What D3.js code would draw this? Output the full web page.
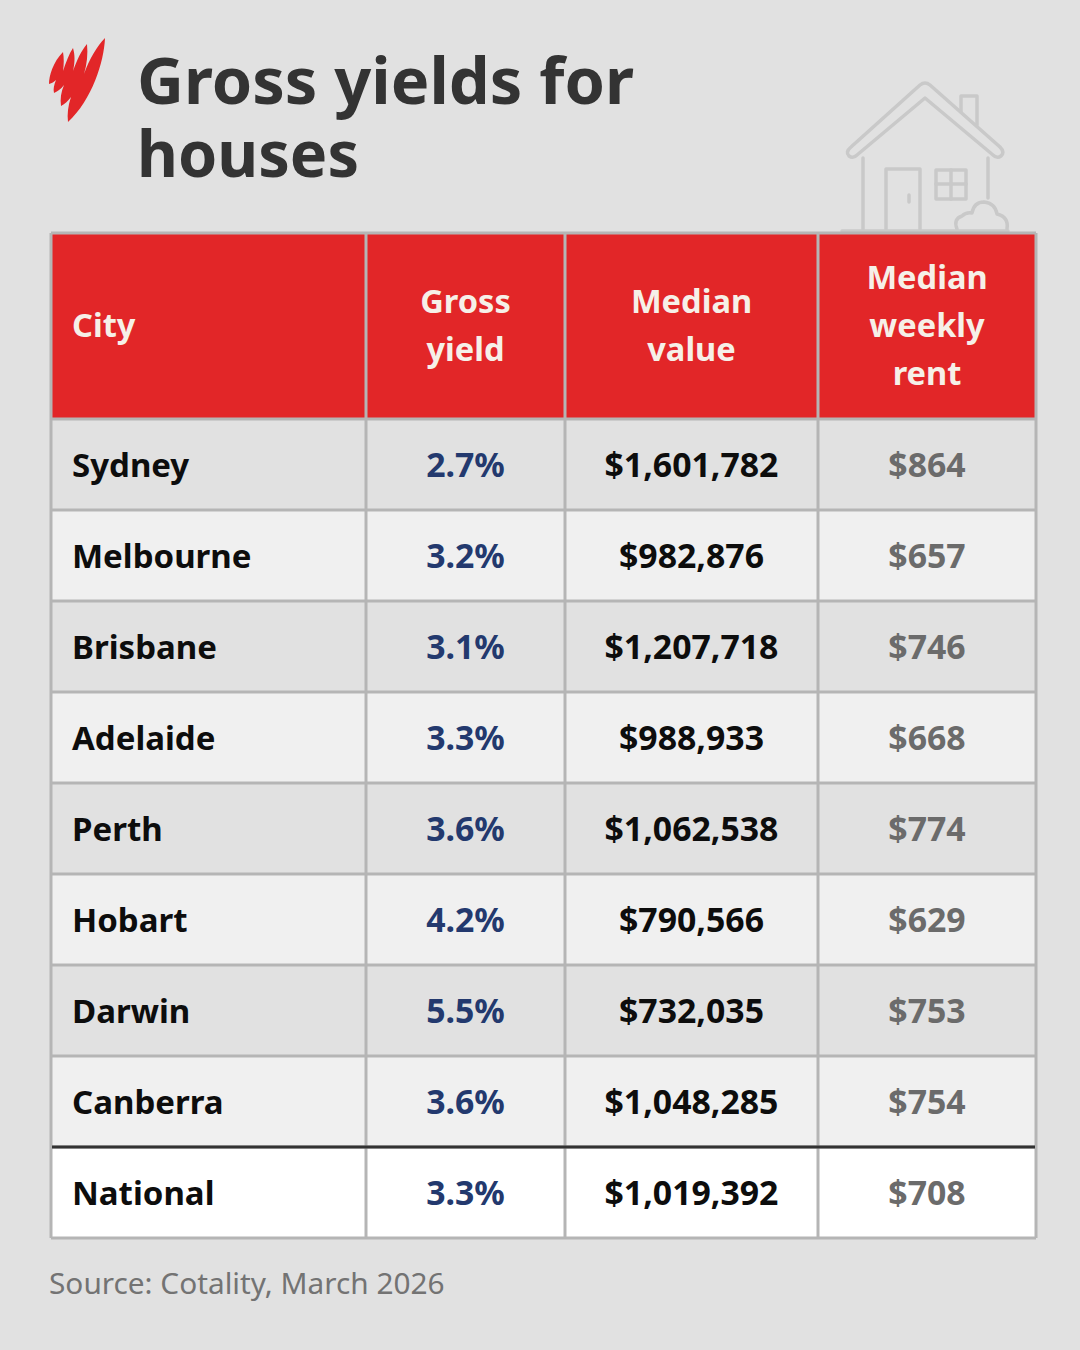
<!DOCTYPE html>
<html>
<head>
<meta charset="utf-8">
<script src="https://cdn.jsdelivr.net/npm/d3@7"></script>
<style>
html, body { margin: 0; padding: 0; background: #e1e1e1; }
svg { display: block; }
text { font-family: "Noto Sans", sans-serif; }
</style>
</head>
<body>
<svg></svg>
<script>
//Table content
var title = ["Gross yields for", "houses"];
var headers = [["City"], ["Gross", "yield"], ["Median", "value"], ["Median", "weekly", "rent"]];
var cities = ["Sydney", "Melbourne", "Brisbane", "Adelaide", "Perth", "Hobart", "Darwin", "Canberra", "National"];
var grossYield = ["2.7%", "3.2%", "3.1%", "3.3%", "3.6%", "4.2%", "5.5%", "3.6%", "3.3%"];
var medianValue = ["$1,601,782", "$982,876", "$1,207,718", "$988,933", "$1,062,538", "$790,566", "$732,035", "$1,048,285", "$1,019,392"];
var weeklyRent = ["$864", "$657", "$746", "$668", "$774", "$629", "$753", "$754", "$708"];
var source = "Source: Cotality, March 2026";

//Canvas settings
var width = 1080;
var height = 1350;
var columnEdges = [51, 366, 565, 818, 1036];
var headerTop = 233;
var rowsTop = 419;
var rowHeight = 91;

var red = "#e22628";
var grid = "#b5b5b5";

var svg = d3.select("svg")
	.attr("width", width)
	.attr("height", height)
	.attr("viewBox", "0 0 " + width + " " + height);

svg.append("rect")
	.attr("width", width)
	.attr("height", height)
	.attr("fill", "#e1e1e1");

//Logo, one serrated outline
svg.append("path")
	.attr("fill", red)
	.attr("d", "M105,38 C104,62 92,100 68,122 C67,114 68,106 71,97 C68,101 65,104 61,106 C60,99 61,92 64,85 C61,89 58,91 54,93 C53,89 54,85 56,80 C54,82 52,83 49,84 C49,76 53,62 63,52 C64,58 64,64 63,71 C66,62 69,54 73,48 C75,55 75,62 73,71 C77,60 81,51 87,44 C88,54 87,64 84,74 C89,60 97,46 105,38 Z");

//Title
svg.append("g").selectAll("text")
	.data(title)
	.enter()
	.append("text")
	.attr("x", 137)
	.attr("y", function(d, i) { return 104 + i * 73; })
	.attr("font-size", 65)
	.attr("font-weight", 700)
	.attr("fill", "#333333")
	.attr("textLength", function(d, i) { return i == 0 ? 497 : 222; })
	.attr("lengthAdjust", "spacingAndGlyphs")
	.text(function(d) { return d; });

//House icon
var house = svg.append("g")
	.attr("fill", "none")
	.attr("stroke", "#c9c9c9")
	.attr("stroke-width", 3.5)
	.attr("stroke-linejoin", "round")
	.attr("stroke-linecap", "round");
var houseParts = [
	"M851,147 L920,85 Q925,81 930,85 L1000,147 Q1005,152 1001,156 Q997,159 993,155 L925,98 L857,155 Q853,159 849,156 Q845,152 851,147 Z",
	"M961,112 L961,96 L977,96 L977,125",
	"M863,158 L863,229",
	"M988,158 L988,198",
	"M886,229 L886,169 L920,169 L920,229",
	"M909,195 L909,202",
	"M936,170 L966,170 L966,199 L936,199 Z",
	"M951,170 L951,199",
	"M936,184 L966,184",
	"M957,229 Q953,219 962,216 Q966,212 972,213 Q974,202 984,202 Q995,203 997,214 Q1009,217 1007,229",
	"M842,231 L1008,231"
];
house.selectAll("path")
	.data(houseParts)
	.enter()
	.append("path")
	.attr("d", function(d) { return d; });

//Scales for the table
var rowBand = d3.scaleBand()
	.domain(cities)
	.range([rowsTop, rowsTop + rowHeight * cities.length]);

function colCenter(c) { return (columnEdges[c] + columnEdges[c + 1]) / 2; }
function cellX(c) { return c == 0 ? 72 : colCenter(c); }
function cellAnchor(c) { return c == 0 ? "start" : "middle"; }

function rowFill(d, i) {
	if (d == "National") return "#ffffff";
	return i % 2 == 0 ? "#e1e1e1" : "#f0f0f0";
}

//Header
svg.append("rect")
	.attr("x", columnEdges[0])
	.attr("y", headerTop)
	.attr("width", columnEdges[4] - columnEdges[0])
	.attr("height", rowsTop - headerTop)
	.attr("fill", red);

//Rows
svg.append("g").selectAll("rect")
	.data(cities)
	.enter()
	.append("rect")
	.attr("x", columnEdges[0])
	.attr("y", function(d) { return rowBand(d); })
	.attr("width", columnEdges[4] - columnEdges[0])
	.attr("height", rowBand.bandwidth())
	.attr("fill", rowFill);

//Grid lines
var gridG = svg.append("g").attr("stroke", grid).attr("stroke-width", 3);
gridG.selectAll(".v")
	.data(columnEdges)
	.enter()
	.append("line")
	.attr("class", "v")
	.attr("x1", function(d) { return d; })
	.attr("x2", function(d) { return d; })
	.attr("y1", headerTop)
	.attr("y2", rowsTop + rowHeight * cities.length);
gridG.selectAll(".h")
	.data([headerTop, rowsTop].concat(cities.map(function(d) { return rowBand(d) + rowHeight; })))
	.enter()
	.append("line")
	.attr("class", "h")
	.attr("x1", columnEdges[0])
	.attr("x2", columnEdges[4])
	.attr("y1", function(d) { return d; })
	.attr("y2", function(d) { return d; });

//Rule above the national row
svg.append("line")
	.attr("x1", columnEdges[0] + 1)
	.attr("x2", columnEdges[4] - 1)
	.attr("y1", rowBand("National"))
	.attr("y2", rowBand("National"))
	.attr("stroke", "#333333")
	.attr("stroke-width", 3);

//Header text
var headerMid = (headerTop + rowsTop) / 2;
headers.forEach(function(lines, c) {
	svg.append("g").selectAll("text")
		.data(lines)
		.enter()
		.append("text")
		.attr("x", cellX(c))
		.attr("y", function(d, i) { return headerMid - 0.5 + (i - (lines.length - 1) / 2) * 48; })
		.attr("dy", "0.36em")
		.attr("text-anchor", cellAnchor(c))
		.attr("font-size", 32.6)
		.attr("font-weight", 700)
		.attr("fill", "#f6f0e8")
		.text(function(d) { return d; });
});

//Cell text
var columnsData = [cities, grossYield, medianValue, weeklyRent];
var columnColors = ["#0d0d0d", "#23396e", "#0d0d0d", "#6b6b6b"];
var columnSizes = [33, 33.8, 33.8, 33.8];
columnsData.forEach(function(values, c) {
	svg.append("g").selectAll("text")
		.data(values)
		.enter()
		.append("text")
		.attr("x", cellX(c))
		.attr("y", function(d, i) { return rowBand(cities[i]) + rowHeight / 2 + 0.5; })
		.attr("dy", "0.36em")
		.attr("text-anchor", cellAnchor(c))
		.attr("font-size", columnSizes[c])
		.attr("font-weight", 700)
		.attr("fill", columnColors[c])
		.text(function(d) { return d; });
});

//Source
svg.append("text")
	.attr("x", 49)
	.attr("y", 1294)
	.attr("font-size", 29.8)
	.attr("fill", "#737373")
	.text(source);
</script>
</body>
</html>
